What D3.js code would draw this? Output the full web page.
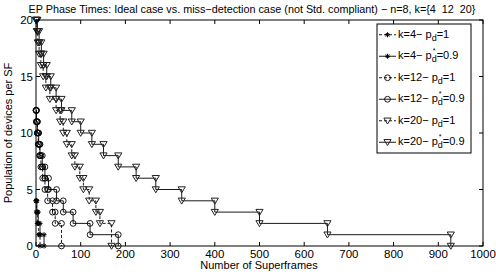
<!DOCTYPE html>
<html>
<head>
<meta charset="utf-8">
<script src="https://cdn.jsdelivr.net/npm/d3@7"></script>
<style>
  body { margin: 0; background: #fff; }
  svg { display: block; font-family: "Liberation Sans", Arial, sans-serif; }
</style>
</head>
<body>
<svg id="chart" width="496" height="274"></svg>
<script>
// 축 눈금
const xTicks = [0, 100, 200, 300, 400, 500, 600, 700, 800, 900, 1000];
const yTicks = [0, 5, 10, 15, 20];

// 시리즈: 시간(슈퍼프레임) / 남은 장치 수
const k4IdealT  = [0, 1, 3, 6, 9];
const k4IdealN  = [4, 3, 2, 1, 0];
const k4MissT   = [0, 2, 5, 9, 18];
const k4MissN   = [4, 3, 2, 1, 0];
const k12IdealT = [0, 1, 3, 5, 8, 11, 15, 20, 26, 37, 43, 57];
const k12IdealN = [12, 11, 10, 9, 8, 7, 6, 5, 4, 3, 2, 0];
const k12MissT  = [0, 1, 3, 6, 9, 14, 20, 28, 46, 61, 83, 121, 184];
const k12MissN  = [12, 11, 10, 9, 8, 7, 6, 5, 4, 3, 2, 1, 0];
const k20IdealT = [0, 2, 4, 7, 11, 16, 22, 31, 45, 54, 61, 69, 80, 87, 98, 106, 119, 134, 143, 169];
const k20IdealN = [20, 19, 18, 17, 16, 15, 14, 13, 12, 11, 10, 9, 8, 7, 6, 5, 4, 3, 2, 0];
const k20MissT  = [0, 3, 7, 12, 17, 24, 33, 45, 57, 80, 100, 125, 151, 184, 224, 268, 326, 400, 500, 652, 928];
const k20MissN  = [20, 19, 18, 17, 16, 15, 14, 13, 12, 11, 10, 9, 8, 7, 6, 5, 4, 3, 2, 1, 0];

const seriesNames = ["k=4", "k=4", "k=12", "k=12", "k=20", "k=20"];
const seriesPd    = ["1", "0.9", "1", "0.9", "1", "0.9"];

const series = [
  { t: k4IdealT,  n: k4IdealN,  marker: "star",   dashed: true },
  { t: k4MissT,   n: k4MissN,   marker: "star",   dashed: false },
  { t: k12IdealT, n: k12IdealN, marker: "circle", dashed: true },
  { t: k12MissT,  n: k12MissN,  marker: "circle", dashed: false },
  { t: k20IdealT, n: k20IdealN, marker: "tri",    dashed: true },
  { t: k20MissT,  n: k20MissN,  marker: "tri",    dashed: false }
];

const svg = d3.select("#chart");
const x = d3.scaleLinear().domain([0, 1000]).range([36, 483]);
const y = d3.scaleLinear().domain([0, 20]).range([246, 20]);

// 계단 모서리 점
function corners(s) {
  const pts = [[s.t[0], s.n[0]]];
  for (let i = 1; i < s.t.length; i++) {
    pts.push([s.t[i], s.n[i - 1]]);
    pts.push([s.t[i], s.n[i]]);
  }
  return pts;
}

function drawMarker(g, type, cx, cy) {
  if (type === "circle") {
    g.append("circle").attr("cx", cx).attr("cy", cy).attr("r", 2.9)
      .attr("fill", "none").attr("stroke", "#000").attr("stroke-width", 0.9);
  } else if (type === "tri") {
    g.append("path")
      .attr("d", `M${cx - 3.6},${cy - 2.7}L${cx + 3.6},${cy - 2.7}L${cx},${cy + 3.3}Z`)
      .attr("fill", "none").attr("stroke", "#222").attr("stroke-width", 1);
  } else {
    const r = 2.5, d = 1.8;
    g.append("path")
      .attr("d", `M${cx - r},${cy}L${cx + r},${cy}M${cx},${cy - r}L${cx},${cy + r}` +
                 `M${cx - d},${cy - d}L${cx + d},${cy + d}M${cx - d},${cy + d}L${cx + d},${cy - d}`)
      .attr("stroke", "#000").attr("stroke-width", 1);
  }
}

const plot = svg.append("g");
const line = d3.line().x(d => x(d[0])).y(d => y(d[1]));

series.forEach(s => {
  const pts = corners(s);
  plot.append("path")
    .attr("d", line(pts))
    .attr("fill", "none")
    .attr("stroke", "#000")
    .attr("stroke-width", 0.9)
    .attr("stroke-dasharray", s.dashed ? "3,2" : null);
  pts.forEach(p => drawMarker(plot, s.marker, x(p[0]), y(p[1])));
});

// 축 박스와 눈금 (안쪽)
const frame = svg.append("g");
frame.append("rect")
  .attr("x", x(0)).attr("y", y(20))
  .attr("width", x(1000) - x(0)).attr("height", y(0) - y(20))
  .attr("fill", "none").attr("stroke", "#000").attr("stroke-width", 1);

xTicks.forEach(v => {
  frame.append("line").attr("x1", x(v)).attr("x2", x(v)).attr("y1", y(0)).attr("y2", y(0) - 4).attr("stroke", "#000");
  frame.append("line").attr("x1", x(v)).attr("x2", x(v)).attr("y1", y(20)).attr("y2", y(20) + 4).attr("stroke", "#000");
  frame.append("text").attr("x", x(v)).attr("y", 258)
    .attr("text-anchor", "middle").style("font-size", "11.5px").text(v);
});
yTicks.forEach(v => {
  frame.append("line").attr("x1", x(0)).attr("x2", x(0) + 4).attr("y1", y(v)).attr("y2", y(v)).attr("stroke", "#000");
  frame.append("line").attr("x1", x(1000)).attr("x2", x(1000) - 4).attr("y1", y(v)).attr("y2", y(v)).attr("stroke", "#000");
  frame.append("text").attr("x", 33).attr("y", y(v)).attr("dy", "0.35em")
    .attr("text-anchor", "end").style("font-size", "11.5px").text(v);
});

// 제목, 축 라벨
svg.append("text").attr("x", 252).attr("y", 13).attr("text-anchor", "middle")
  .style("font-size", "10.8px")
  .attr("xml:space", "preserve").style("white-space", "pre")
  .text("EP Phase Times: Ideal case vs. miss\u2212detection case (not Std. compliant) \u2212 n=8, k={4  12  20}");
svg.append("text").attr("x", 259).attr("y", 269).attr("text-anchor", "middle")
  .style("font-size", "11px").text("Number of Superframes");
svg.append("text").attr("transform", "translate(12,133) rotate(-90)").attr("text-anchor", "middle")
  .style("font-size", "11px").text("Population of devices per SF");

// 범례
const lg = svg.append("g");
lg.append("rect").attr("x", 377).attr("y", 24).attr("width", 94).attr("height", 129)
  .attr("fill", "#fff").attr("stroke", "#000").attr("stroke-width", 1);
series.forEach((s, i) => {
  const cy = 24 + 129 * (i + 0.5) / 6;
  lg.append("line").attr("x1", 379).attr("x2", 396).attr("y1", cy).attr("y2", cy)
    .attr("stroke", "#000").attr("stroke-width", 0.9)
    .attr("stroke-dasharray", s.dashed ? "3,2" : null);
  drawMarker(lg, s.marker, 387.5, cy);
  const t = lg.append("text").attr("x", 398).attr("y", cy + 3).style("font-size", "11px");
  t.append("tspan").text(seriesNames[i] + "\u2212 p");
  t.append("tspan").attr("dy", 3).style("font-size", "9px").text("d");
  t.append("tspan").attr("dy", -3).text("=" + seriesPd[i]);
  if (seriesPd[i] !== "1") {
    const node = t.node();
    const idx = (seriesNames[i] + "\u2212 p").length;
    const pos = node.getStartPositionOfChar(idx);
    lg.append("text").attr("x", pos.x + 1).attr("y", cy - 3)
      .style("font-size", "7px").text("*");
  }
});
</script>
</body>
</html>
